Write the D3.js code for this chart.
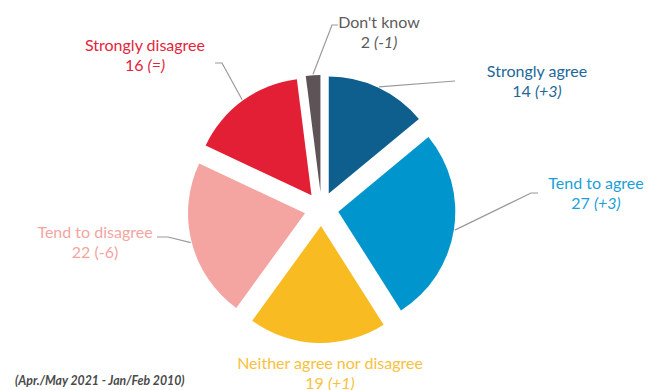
<!DOCTYPE html>
<html>
<head>
<meta charset="utf-8">
<script src="https://cdn.jsdelivr.net/npm/d3@7"></script>
<style>
  body { margin: 0; background: #fff; }
  svg { display: block; }
  text { font-family: Lato, "Open Sans", sans-serif; }
</style>
</head>
<body>
<svg id="chart" width="659" height="390"></svg>
<script>
// Survey answers (share in %, change in points since Jan/Feb 2010)
const categories = ["Strongly agree", "Tend to agree", "Neither agree nor disagree", "Tend to disagree", "Strongly disagree", "Don't know"];
const values = [14, 27, 19, 22, 16, 2];
const changes = ["+3", "+3", "+1", "-6", "=", "-1"];
const footnote = "(Apr./May 2021 - Jan/Feb 2010)";

// Colours
const sliceColors = ["#0e5e8e", "#0095cc", "#f9bb22", "#f4a5a1", "#e31f35", "#5e5458"];
const labelColors = ["#22679a", "#1a9fd8", "#f8c13e", "#f4a5a1", "#e3253c", "#5c5c5c"];
const uprightChange = new Set(["Tend to disagree"]);

// Layout
const W = 659, H = 390;
const cx = 321.5, cy = 209, R = 117, explode = 17;
const labelAnchors = {
  "Strongly agree": [537, 71],
  "Tend to agree": [596, 183],
  "Neither agree nor disagree": [330, 363],
  "Tend to disagree": [95, 232],
  "Strongly disagree": [145, 45],
  "Don't know": [379, 22]
};
const leaderBends = {
  "Strongly agree": [[455, 81]],
  "Tend to agree": [[531, 193], [538, 193]],
  "Tend to disagree": [[168, 237], [157, 237]],
  "Strongly disagree": [[222, 63], [215, 63]],
  "Don't know": [[332, 25], [338, 25]]
};

const svg = d3.select("#chart");
const rows = categories.map((c, i) => ({ category: c, value: values[i], change: changes[i], i }));

const pie = d3.pie().sort(null).value(d => d.value);
const arc = d3.arc().innerRadius(0).outerRadius(R);
const arcs = pie(rows);

const mid = a => (a.startAngle + a.endAngle) / 2;
const polar = (ang, r) => [Math.sin(ang) * r, -Math.cos(ang) * r];

const g = svg.append("g").attr("transform", `translate(${cx},${cy})`);

g.selectAll("path.slice")
  .data(arcs)
  .join("path")
  .attr("class", "slice")
  .attr("transform", d => {
    const [ox, oy] = polar(mid(d), explode);
    return `translate(${ox},${oy})`;
  })
  .attr("d", arc)
  .attr("fill", d => sliceColors[d.data.i]);

// Leader lines from the outer edge of each slice to its label
const line = d3.line();
arcs.forEach(a => {
  const bends = leaderBends[a.data.category];
  if (!bends) return;
  const [sx, sy] = polar(mid(a), explode + R + 1);
  const pts = [[cx + sx, cy + sy], ...bends];
  svg.append("path")
    .attr("d", line(pts))
    .attr("fill", "none")
    .attr("stroke", "#9a9a9a")
    .attr("stroke-width", 1.2);
});

// Labels
const labels = svg.append("g").attr("font-size", 16);
rows.forEach(r => {
  const [lx, ly] = labelAnchors[r.category];
  const t = labels.append("text")
    .attr("x", lx).attr("y", ly + 5.5)
    .attr("text-anchor", "middle")
    .attr("fill", labelColors[r.i]);
  t.text(r.category);
  const t2 = labels.append("text")
    .attr("x", lx).attr("y", ly + 25.5)
    .attr("text-anchor", "middle")
    .attr("fill", labelColors[r.i]);
  t2.append("tspan").text(r.value + " ");
  t2.append("tspan")
    .attr("font-style", uprightChange.has(r.category) ? "normal" : "italic")
    .text(`(${r.change})`);
});

svg.append("text")
  .attr("x", 15).attr("y", 384.5)
  .attr("font-size", 12.3)
  .attr("font-weight", "bold")
  .attr("font-style", "italic")
  .attr("fill", "#4a4a4a")
  .text(footnote);
</script>
</body>
</html>
